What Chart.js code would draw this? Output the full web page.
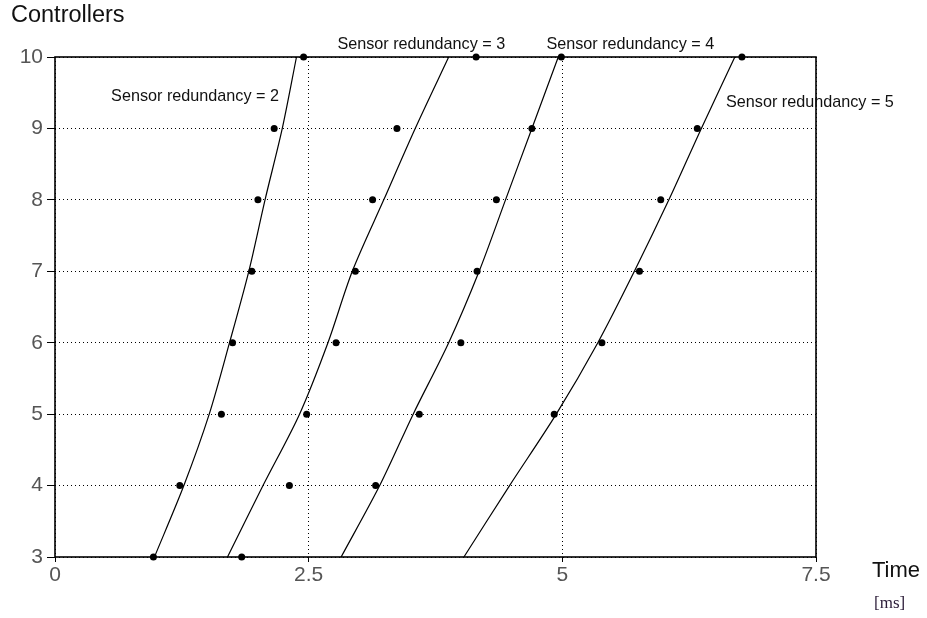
<!DOCTYPE html>
<html>
<head>
<meta charset="utf-8">
<script src="https://cdn.jsdelivr.net/npm/chart.js@4/dist/chart.umd.min.js"></script>
<style>
    body { margin: 0; background: #ffffff; }
    canvas { display: block; }
</style>
</head>
<body>
<canvas id="redundancyChart" width="927" height="618"></canvas>

<script>

// ======================================================
// Données (temps en ms, par nombre de contrôleurs)
// ======================================================

const controllers = [3, 4, 5, 6, 7, 8, 9, 10];

// mesures (points)
const red2Times = [0.97, 1.23, 1.64, 1.75, 1.94, 2.00, 2.16, 2.45];
const red3Times = [1.84, 2.31, 2.48, 2.77, 2.96, 3.13, 3.37, 4.15];
const red4Times = [null, 3.16, 3.59, 4.00, 4.16, 4.35, 4.70, 4.99];
const red5Times = [null, null, 4.92, 5.39, 5.76, 5.97, 6.33, 6.77];

// courbes lissées
const red2Fit = [0.98, 1.27, 1.52, 1.72, 1.91, 2.07, 2.24, 2.38];
const red3Fit = [1.70, 2.05, 2.41, 2.69, 2.93, 3.24, 3.55, 3.88];
const red4Fit = [2.82, 3.20, 3.53, 3.88, 4.18, 4.44, 4.70, 4.96];
const red5Fit = [4.03, 4.48, 4.94, 5.35, 5.71, 6.05, 6.37, 6.70];

const xTicks = [0, 2.5, 5, 7.5];

const curveLabels = [
    { text: "Sensor redundancy = 2", x: 1.38, y: 9.44 },
    { text: "Sensor redundancy = 3", x: 3.61, y: 10.18 },
    { text: "Sensor redundancy = 4", x: 5.67, y: 10.18 },
    { text: "Sensor redundancy = 5", x: 7.44, y: 9.36 }
];


// ======================================================
// Outils
// ======================================================

function toPoints(times) {

    return controllers
        .map((c, i) => ({ x: times[i], y: c }))
        .filter(p => p.x !== null);

}

function dots(times) {

    return {
        data: toPoints(times),
        showLine: false,
        pointRadius: 3.5,
        pointBackgroundColor: "#000",
        pointBorderWidth: 0,
        clip: 6
    };

}

function curve(times) {

    return {
        data: toPoints(times),
        showLine: true,
        borderColor: "#000",
        borderWidth: 1.2,
        pointRadius: 0,
        tension: 0.3,
        clip: 2
    };

}


// ======================================================
// Plugin : cadre + textes
// ======================================================

const framePlugin = {

    id: "frame",

    beforeDatasetsDraw(chart) {

        const ctx = chart.ctx;
        const a = chart.chartArea;

        ctx.save();
        ctx.strokeStyle = "#000";
        ctx.lineWidth = 1.6;
        ctx.strokeRect(a.left, a.top, a.right - a.left, a.bottom - a.top);
        ctx.restore();

    },

    afterDraw(chart) {

        const ctx = chart.ctx;
        const xs = chart.scales.x;
        const ys = chart.scales.y;

        ctx.save();
        ctx.fillStyle = "#111";
        ctx.textBaseline = "middle";

        // libellés des courbes
        ctx.font = "16.2px 'Liberation Sans', Arial, sans-serif";
        ctx.textAlign = "center";

        curveLabels.forEach(l => {
            ctx.fillText(l.text, xs.getPixelForValue(l.x), ys.getPixelForValue(l.y));
        });

        // titres des axes
        ctx.textAlign = "left";
        ctx.font = "23.5px 'Liberation Sans', Arial, sans-serif";
        ctx.fillText("Controllers", 11, 16);

        ctx.font = "22px 'Liberation Sans', Arial, sans-serif";
        ctx.fillText("Time", 872, 571);

        ctx.fillStyle = "#2b1c38";
        ctx.font = "17px 'Liberation Serif', 'Times New Roman', serif";
        ctx.fillText("[ms]", 874, 604);

        ctx.restore();

    }

};


// ======================================================
// Graphique
// ======================================================

function drawChart() {

    const tickFont = { family: "'Liberation Sans', Arial, sans-serif", size: 21 };

    new Chart(document.getElementById("redundancyChart"), {

        type: "scatter",

        data: {
            datasets: [
                curve(red2Fit),
                curve(red3Fit),
                curve(red4Fit),
                curve(red5Fit),
                dots(red2Times),
                dots(red3Times),
                dots(red4Times),
                dots(red5Times)
            ]
        },

        options: {

            responsive: false,
            animation: false,

            layout: {
                padding: { top: 57, right: 111, left: 0, bottom: 0 }
            },

            plugins: {
                legend: { display: false },
                tooltip: { enabled: false }
            },

            scales: {

                x: {
                    type: "linear",
                    min: 0,
                    max: 7.5,
                    afterFit: s => { s.height = 61; },
                    afterBuildTicks: s => {
                        s.ticks = xTicks.map(v => ({ value: v }));
                    },
                    grid: {
                        color: "#000",
                        lineWidth: 1,
                        tickLength: 5,
                        tickColor: "#000",
                        tickBorderDash: []
                    },
                    border: { display: false, dash: [1, 3] },
                    ticks: {
                        padding: 1,
                        color: "#555",
                        maxRotation: 0,
                        font: tickFont
                    }
                },

                y: {
                    type: "linear",
                    min: 3,
                    max: 10,
                    afterFit: s => { s.width = 55; },
                    grid: {
                        color: "#000",
                        lineWidth: 1,
                        tickLength: 8,
                        tickColor: "#000",
                        tickBorderDash: []
                    },
                    border: { display: false, dash: [1, 3] },
                    ticks: {
                        stepSize: 1,
                        padding: 4,
                        color: "#555",
                        font: tickFont
                    }
                }

            }

        },

        plugins: [framePlugin]

    });

}


// ======================================================
// Initialisation
// ======================================================

window.addEventListener("load", drawChart);

</script>
</body>
</html>
